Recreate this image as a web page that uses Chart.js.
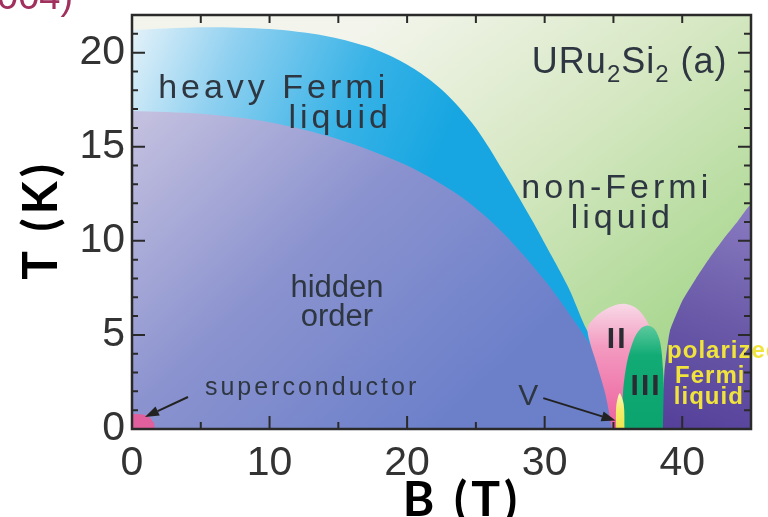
<!DOCTYPE html>
<html><head><meta charset="utf-8">
<script src="https://cdn.jsdelivr.net/npm/chart.js@4/dist/chart.umd.min.js"></script>
<style>html,body{margin:0;padding:0;background:#fff}#wrap{position:relative;width:768px;height:517px}</style>
</head><body><div id="wrap"><canvas id="c"></canvas></div>
<script>
// ---- data (B in tesla, T in kelvin); corner points repeated to keep corners sharp ----
const xTickValues = [0,10,20,30,40];
const yTickValues = [0,5,10,15,20];
const nflB = [0,45,45,0];           const nflT = [22,22,0,0];
const hflB = [0,0,0,0,5,10,14,17,19,21,23,25,27,29,30.5,31.8,32.9,33.6,34.5,35];
const hflT = [0,0,21.2,21.2,21.35,21.25,20.9,20.35,19.75,18.9,17.7,16.0,13.7,11.2,9.2,7.4,5.5,4.5,2.2,0];
const hoB  = [0,0,0,0,5,10,15,20,24,27,30,32,33.5,34.4,34.9];
const hoT  = [0,0,16.9,16.9,16.75,16.3,15.4,14.0,12.3,10.4,7.9,5.9,4.2,2.4,0];
const p2B  = [34.9,34.4,33.8,33.1,33.6,34.3,35.0,35.8,36.6,37.2,37.7,38.0,38.1];
const p2T  = [0,1.9,3.4,5.3,5.9,6.3,6.55,6.65,6.45,6.0,5.3,4.3,0];
const p3B  = [35.6,35.7,36.0,36.5,37.0,37.5,38.0,38.4,38.6,38.7,38.7];
const p3T  = [0,2.0,3.6,4.8,5.35,5.5,5.3,4.6,3.2,1.5,0];
const p5B  = [35.2,35.2,35.45,35.75,35.8];
const p5T  = [0,1.2,1.9,1.3,0];
const pflB = [38.6,38.7,39.1,40,41,42,43,44,45,45];
const pflT = [0,3,5.2,6.8,8.0,9.1,10.1,11.0,11.9,0];
const scB  = [0,0,0.6,1.2,1.6,1.65];
const scT  = [0,0.75,0.78,0.65,0.3,0];
const scArrowB = [4.07,0.94];  const scArrowT = [1.70,0.64];
const vArrowB  = [29.9,35.15]; const vArrowT  = [1.64,0.45];

const pts = (B,T) => B.map((b,i)=>({x:b,y:T[i]}));

function grad(chart, b0,t0,b1,t1, stops, fallback){
  const a = chart.chartArea; if(!a) return fallback;
  const xs = chart.scales.x, ys = chart.scales.y;
  const g = chart.ctx.createLinearGradient(xs.getPixelForValue(b0), ys.getPixelForValue(t0), xs.getPixelForValue(b1), ys.getPixelForValue(t1));
  stops.forEach(s=>g.addColorStop(s[0], s[1]));
  return g;
}
function region(B,T,bg,tension,order){
  return {data:pts(B,T), showLine:true, fill:'shape', borderWidth:0, borderColor:'transparent', order:order,
          pointRadius:0, pointHoverRadius:0, tension: tension, backgroundColor:bg};
}

const LBL = '#2e3741';
const labels = [
  {text:'heavy Fermi', b:1.9,  t:17.6, size:34, align:'left',  sp:4},
  {text:'liquid',      b:18.6, t:16.0, size:34, align:'right', sp:4},
  {text:'non-Fermi',   b:28.3, t:12.3, size:34, align:'left',  sp:4},
  {text:'liquid',      b:35.5, t:10.66,size:34, align:'center',sp:4},
  {text:'hidden',      b:14.9, t:7.0,  size:31, align:'center',sp:0},
  {text:'order',       b:14.9, t:5.46, size:31, align:'center',sp:0},
  {text:'superconductor', b:5.3, t:1.8, size:25, align:'left', sp:3},
  {text:'V',           b:28.8, t:1.27, size:30, align:'center',sp:0},
  {text:'II',          b:35.2, t:4.3,  size:30, align:'center',sp:2, weight:'bold', color:'#2b2b33'},
  {text:'III',         b:37.3, t:1.8,  size:30, align:'center',sp:2, weight:'bold', color:'#2b2b33'},
  {text:'polarized',   b:38.9, t:3.77, size:24, align:'left',  sp:1, weight:'bold', color:'#f0e43c'},
  {text:'Fermi',       b:42.0, t:2.44, size:24, align:'center',sp:1, weight:'bold', color:'#f0e43c'},
  {text:'liquid',      b:41.9, t:1.33, size:24, align:'center',sp:1, weight:'bold', color:'#f0e43c'}
];

function arrow(ctx, x0,y0,x1,y1){
  ctx.save(); ctx.strokeStyle='#222'; ctx.fillStyle='#222'; ctx.lineWidth=2;
  const ang=Math.atan2(y1-y0,x1-x0), L=14, W=5;
  const bx=x1-L*Math.cos(ang), by=y1-L*Math.sin(ang);
  ctx.beginPath(); ctx.moveTo(x0,y0); ctx.lineTo(bx,by); ctx.stroke();
  ctx.beginPath(); ctx.moveTo(x1,y1);
  ctx.lineTo(bx+W*Math.sin(ang), by-W*Math.cos(ang));
  ctx.lineTo(bx-W*Math.sin(ang), by+W*Math.cos(ang)); ctx.closePath(); ctx.fill();
  ctx.restore();
}

const overlay = {
  id:'overlay',
  afterDatasetsDraw(chart){
    const ctx=chart.ctx, a=chart.chartArea, xs=chart.scales.x, ys=chart.scales.y;
    const px=b=>xs.getPixelForValue(b), py=t=>ys.getPixelForValue(t);
    arrow(ctx, px(scArrowB[0]),py(scArrowT[0]),px(scArrowB[1]),py(scArrowT[1]));
    arrow(ctx, px(vArrowB[0]),py(vArrowT[0]),px(vArrowB[1]),py(vArrowT[1]));
    ctx.save();
    ctx.textBaseline='alphabetic';
    for(const L of labels){
      ctx.font=(L.weight||'normal')+' '+L.size+'px "Liberation Sans", Arial, sans-serif';
      ctx.letterSpacing=(L.sp||0)+'px';
      ctx.fillStyle=L.color||LBL;
      ctx.textAlign=L.align;
      let x=px(L.b); if(L.align==='center') x+= (L.sp||0)/2; if(L.align==='right') x+=(L.sp||0);
      ctx.fillText(L.text, x, py(L.t));
    }
    {
      let x=px(29.07), y=py(18.94);
      ctx.textAlign='left'; ctx.fillStyle=LBL; ctx.letterSpacing='1px';
      const big='36px "Liberation Sans", Arial, sans-serif', small='24px "Liberation Sans", Arial, sans-serif';
      const parts=[['URu',big,0],['2',small,9],['Si',big,0],['2',small,9],[' (a)',big,0]];
      for(const [s,f,dy] of parts){ ctx.font=f; ctx.fillText(s,x,y+dy); x+=ctx.measureText(s).width; }
    }
    ctx.restore();
    ctx.save();
    ctx.strokeStyle='#2a2a2a'; ctx.lineWidth=2;
    ctx.beginPath();
    for(let b=5;b<45;b+=5){
      const x=px(b), major=b%10===0;
      ctx.moveTo(x,a.bottom); ctx.lineTo(x,a.bottom-(major?13:7));
      ctx.moveTo(x,a.top); ctx.lineTo(x,a.top+8);
    }
    for(let t=1;t<22;t+=1){
      const y=py(t), major=t%5===0;
      ctx.moveTo(a.left,y); ctx.lineTo(a.left+(major?13:6),y);
      ctx.moveTo(a.right,y); ctx.lineTo(a.right-(major?13:7),y);
    }
    ctx.stroke();
    ctx.lineWidth=2.5;
    ctx.strokeRect(a.left,a.top,a.right-a.left,a.bottom-a.top);
    ctx.restore();
  },
  afterDraw(chart){
    const ctx=chart.ctx;
    ctx.save();
    ctx.fillStyle='#000';
    ctx.font='bold 48px Lato, "Open Sans", sans-serif';
    ctx.letterSpacing='4px';
    ctx.textAlign='center'; ctx.textBaseline='alphabetic';
    ctx.fillText('B (T)', 462, 516);
    ctx.translate(57,220); ctx.rotate(-Math.PI/2);
    ctx.fillText('T (K)', 0, 0);
    ctx.restore();
    ctx.save();
    ctx.fillStyle='#a0305e'; ctx.font='38px "Liberation Sans", Arial, sans-serif';
    ctx.textAlign='left'; ctx.textBaseline='alphabetic';
    ctx.fillText('004)', -3, 9);
    ctx.restore();
  }
};

new Chart(document.getElementById('c'), {
  type:'scatter',
  data:{datasets:[
    region(nflB,nflT,c=>grad(c.chart,18,22,38,3,[[0,'#f3f5ec'],[0.45,'#d7e8c4'],[1,'#a6d68c']],'#cfe5b8'),0,8),
    region(hflB,hflT,c=>grad(c.chart,0,21,22,14,[[0,'#e2f1f9'],[0.3,'#8fd0f0'],[0.7,'#36b2e6'],[1,'#17a6e1']],'#2aaee4'),0.3,7),
    region(hoB,hoT,c=>grad(c.chart,0,17,22,0,[[0,'#c6c2e0'],[0.5,'#8b93cf'],[1,'#6c80ca']],'#7f8acb'),0.3,6),
    region(p2B,p2T,c=>grad(c.chart,35.5,6.7,35.5,0,[[0,'#f8dbe8'],[0.35,'#f39ac0'],[1,'#ec5f9c']],'#f090b8'),0.3,5),
    region(p3B,p3T,c=>grad(c.chart,37.5,5.6,37.5,0,[[0,'#62cca0'],[0.3,'#12ab76'],[1,'#0ba46e']],'#10a872'),0.3,4),
    region(p5B,p5T,c=>grad(c.chart,35.5,2,35.5,0,[[0,'#fff6c8'],[0.5,'#f4ec6a'],[1,'#efe450']],'#f2ea60'),0.3,3),
    region(pflB,pflT,c=>grad(c.chart,45,12,39,0,[[0,'#8a7cc2'],[0.5,'#6a5aa8'],[1,'#55409a']],'#6a5aa8'),0.15,2),
    region(scB,scT,'#e0609e',0.3,1)
  ]},
  options:{
    responsive:true, maintainAspectRatio:false, animation:false,
    layout:{padding:{left:0,top:15,right:17,bottom:0}},
    plugins:{legend:{display:false}, tooltip:{enabled:false}},
    scales:{
      x:{type:'linear', min:0, max:45,
         afterFit:s=>{s.height=88; s.paddingLeft=0; s.paddingRight=0;},
         grid:{display:false, drawTicks:false}, border:{display:false},
         afterBuildTicks:s=>{s.ticks=xTickValues.map(v=>({value:v}));},
         ticks:{padding:10, color:'#333', font:{size:41, family:'"Liberation Sans", Arial, sans-serif'}, maxRotation:0, autoSkip:false}},
      y:{type:'linear', min:0, max:22,
         afterFit:s=>{s.width=132; s.paddingTop=0; s.paddingBottom=0;},
         grid:{display:false, drawTicks:false}, border:{display:false},
         afterBuildTicks:s=>{s.ticks=yTickValues.map(v=>({value:v}));},
         ticks:{padding:7, color:'#333', font:{size:41, family:'"Liberation Sans", Arial, sans-serif'}, autoSkip:false}}
    }
  },
  plugins:[overlay]
});
</script>
</body></html>
